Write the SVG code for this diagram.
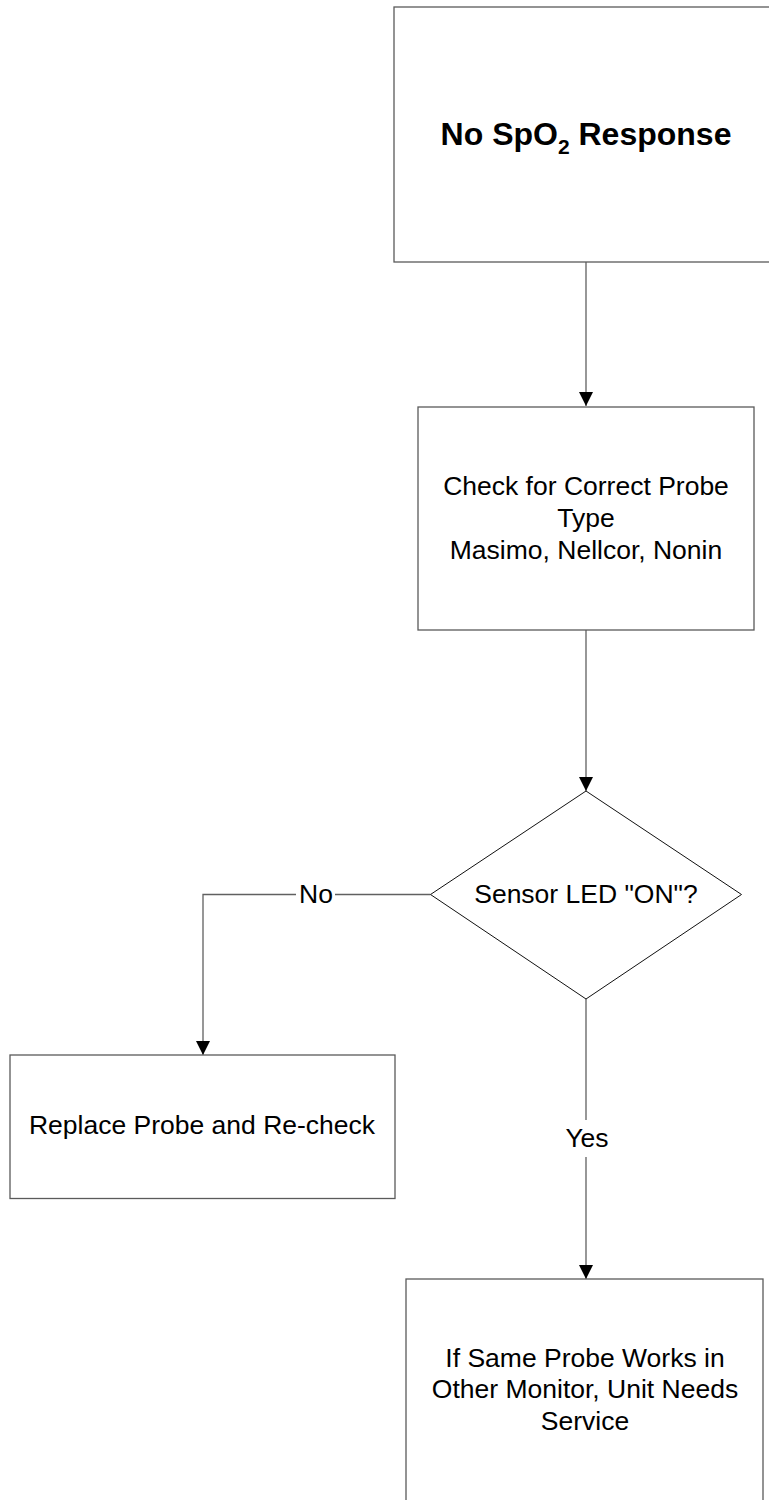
<svg xmlns="http://www.w3.org/2000/svg" width="769" height="1500" viewBox="0 0 769 1500">
<style>
.box{fill:#fff;stroke:#5a5a5a;stroke-width:1.3}
.dia{fill:#fff;stroke:#111;stroke-width:1}
.line{fill:none;stroke:#606060;stroke-width:1.3}
.t{font-family:"Liberation Sans",Arial,sans-serif;font-size:26.5px;fill:#000;text-anchor:middle}
.title{font-family:"Liberation Sans",Arial,sans-serif;font-size:32px;font-weight:bold;fill:#000;text-anchor:middle}
</style>
<defs>
<marker id="arr" markerUnits="userSpaceOnUse" markerWidth="16" markerHeight="15" refX="14" refY="7" orient="auto">
<path d="M0,0 L14,7 L0,14 Z" fill="#000"/>
</marker>
</defs>
<rect width="769" height="1500" fill="#fff"/>
<g id="connectors">
<path class="line" d="M586,262 V406" marker-end="url(#arr)"/>
<path class="line" d="M586,630 V791" marker-end="url(#arr)"/>
<path class="line" d="M430.5,894.5 H335"/>
<path class="line" d="M296,894.5 H203 V1055" marker-end="url(#arr)"/>
<text class="t" x="316" y="903">No</text>
<path class="line" d="M586,999 V1120"/>
<path class="line" d="M586,1157 V1279" marker-end="url(#arr)"/>
<text class="t" x="587" y="1147">Yes</text>
</g>
<g id="node-start">
<rect class="box" x="394" y="7" width="390" height="255"/>
<text class="title" x="586" y="145">No SpO<tspan font-size="21" dy="9">2</tspan><tspan dy="-9"> Response</tspan></text>
</g>
<g id="node-check">
<rect class="box" x="418" y="407" width="336" height="223"/>
<text class="t" x="586" y="495">Check for Correct Probe</text>
<text class="t" x="586" y="527">Type</text>
<text class="t" x="586" y="559">Masimo, Nellcor, Nonin</text>
</g>
<g id="node-decision">
<polygon class="dia" points="586,791 741.5,894.5 586,999 430.5,894.5"/>
<text class="t" x="586" y="903">Sensor LED "ON"?</text>
</g>
<g id="node-replace">
<rect class="box" x="10" y="1055" width="385" height="143.5"/>
<text class="t" x="202" y="1134">Replace Probe and Re-check</text>
</g>
<g id="node-service">
<rect class="box" x="406" y="1279" width="357" height="260"/>
<text class="t" x="585" y="1367">If Same Probe Works in</text>
<text class="t" x="585" y="1398">Other Monitor, Unit Needs</text>
<text class="t" x="585" y="1430">Service</text>
</g>
</svg>
